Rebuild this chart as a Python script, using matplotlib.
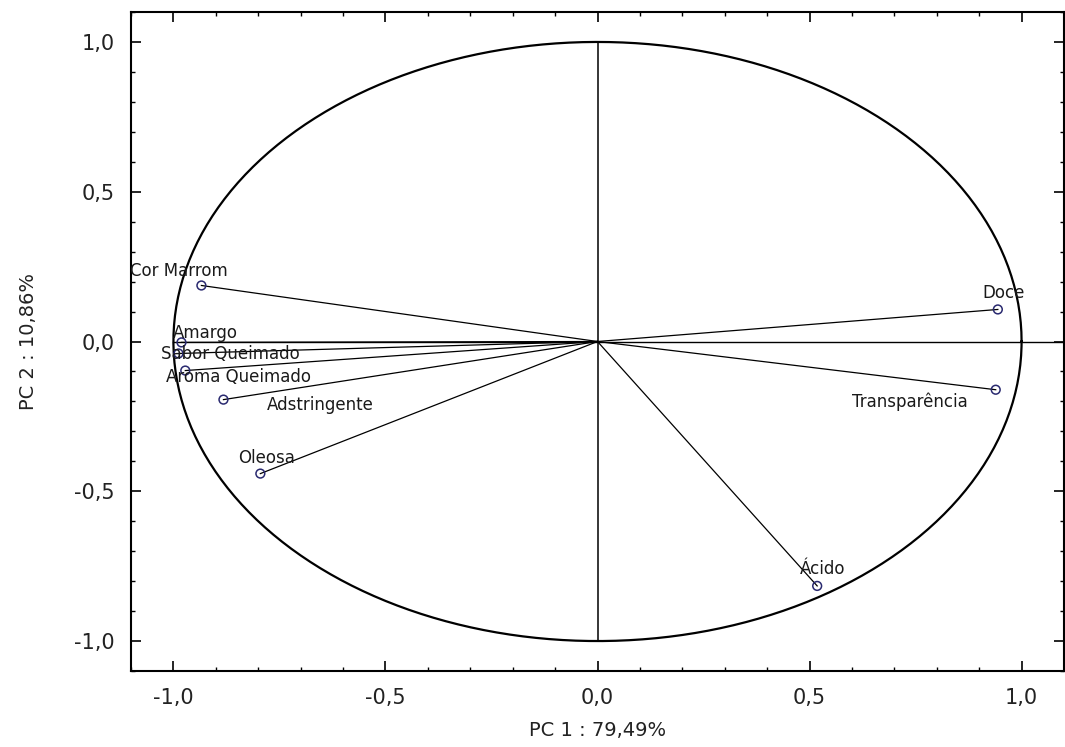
import numpy as np
import matplotlib
matplotlib.use("Agg")
import matplotlib.pyplot as plt
from matplotlib.ticker import MultipleLocator, FuncFormatter

# Loadings
variables = ["Cor Marrom", "Amargo", "Sabor Queimado", "Aroma Queimado",
             "Adstringente", "Oleosa", "Doce", "Transparência", "Ácido"]
pc1 = [-0.934, -0.981, -0.988, -0.972, -0.882, -0.795, 0.944, 0.939, 0.518]
pc2 = [0.187, -0.003, -0.040, -0.097, -0.194, -0.441, 0.107, -0.161, -0.816]
# label anchor positions (data coords, centre of text)
label_x = [-0.986, -0.925, -0.866, -0.847, -0.654, -0.781, 0.958, 0.736, 0.532]
label_y = [0.237, 0.030, -0.043, -0.120, -0.211, -0.388, 0.161, -0.201, -0.759]

xlabel = "PC 1 : 79,49%"
ylabel = "PC 2 : 10,86%"

plt.rcParams['font.family'] = ['DejaVu Sans']

fig = plt.figure(figsize=(10.65, 7.47), dpi=100)
ax = fig.add_axes([131/1065, 1-671/747, (1064-131)/1065, (671-12)/747])

# unit circle
t = np.linspace(0, 2*np.pi, 400)
ax.plot(np.cos(t), np.sin(t), color="black", lw=1.6, zorder=2)
# reference axes
ax.plot([0, 0], [-1, 1], color="black", lw=1.1, zorder=2)
ax.plot([-1, 1.1], [0, 0], color="black", lw=1.0, zorder=2)

for x, y in zip(pc1, pc2):
    ax.plot([0, x], [0, y], color="black", lw=0.9, zorder=2)
ax.scatter(pc1, pc2, s=40, facecolors="none", edgecolors="#2a2a70", lw=1.1, zorder=3)
for name, lx, ly in zip(variables, label_x, label_y):
    ax.text(lx, ly, name, ha="center", va="center", fontsize=12, color="#1a1a1a", zorder=4)

ax.set_xlim(-1.1, 1.1)
ax.set_ylim(-1.1, 1.1)
ax.xaxis.set_major_locator(MultipleLocator(0.5))
ax.yaxis.set_major_locator(MultipleLocator(0.5))
ax.xaxis.set_minor_locator(MultipleLocator(0.1))
ax.yaxis.set_minor_locator(MultipleLocator(0.1))
fmt = FuncFormatter(lambda v, p: f"{v:.1f}".replace(".", ",").replace("-0,0", "0,0"))
ax.xaxis.set_major_formatter(fmt)
ax.yaxis.set_major_formatter(fmt)
ax.tick_params(which="both", direction="in", top=True, right=True, labelsize=15,
               colors="black", labelcolor="#222222")
ax.tick_params(which="major", length=7, width=1.2, pad=12)
ax.tick_params(which="minor", length=3, width=1.0)
for sp in ax.spines.values():
    sp.set_linewidth(1.5)

ax.set_xlabel(xlabel, fontsize=14, color="#222222")
ax.set_ylabel(ylabel, fontsize=14, color="#222222")
ax.xaxis.set_label_coords(0.5, (671-730)/659)
ax.xaxis.label.set_va("center")
ax.yaxis.set_label_coords((28-131)/933, 0.5)
ax.yaxis.label.set_va("center")

fig.savefig("out.png", dpi=100)
